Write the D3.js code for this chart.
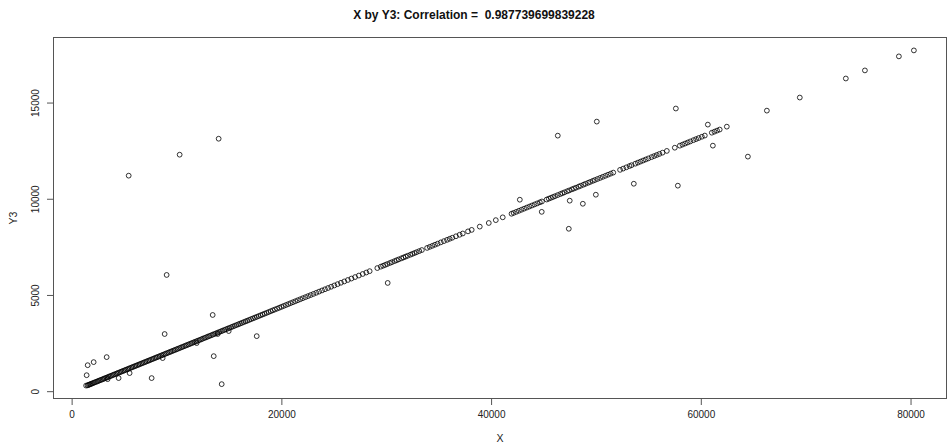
<!DOCTYPE html>
<html>
<head>
<meta charset="utf-8">
<script src="https://cdn.jsdelivr.net/npm/d3@7"></script>
<style>
  html, body { margin: 0; padding: 0; background: #fff; }
  svg { display: block; font-family: "Liberation Sans", Arial, sans-serif; }
</style>
</head>
<body>
<div id="chart"></div>
<script>
const title = "X by Y3: Correlation =  0.987739699839228"
const xLabel = "X"
const yLabel = "Y3"
const xTicks = [0, 20000, 40000, 60000, 80000]
const yTicks = [0, 5000, 10000, 15000]

// points along the main trend
const xValues = [
  1380, 1520, 1610, 1700, 1790, 1880, 1990, 2100, 2210, 2330, 2450, 2560, 2680, 2800, 2930,
  3050, 3160, 3290, 3400, 3530, 3650, 3770, 3900, 4020, 4150, 4280, 4400, 4530, 4660, 4780,
  4910, 5040, 5160, 5300, 5420, 5550, 5690, 5810, 5950, 6080, 6210, 6350, 6480, 6620, 6750,
  6890, 7020, 7160, 7300, 7430, 7570, 7710, 7850, 7990, 8120, 8260, 8410, 8550, 8690, 8830,
  8970, 9110, 9260, 9400, 9540, 9690, 9830, 9980, 10120, 10270, 10420, 10560, 10710, 10860,
  11000, 11150, 11300, 11450, 11600, 11750, 11900, 12050, 12210, 12360, 12510, 12670, 12820,
  12980, 13130, 13290, 13450, 13600, 13760, 13920, 14080, 14240, 14400, 14560, 14720, 14890,
  15050, 15220, 15380, 15550, 15720, 15890, 16060, 16230, 16400, 16580, 16750, 16930, 17110,
  17290, 17470, 17650, 17830, 18020, 18210, 18400, 18590, 18780, 18980, 19180, 19380, 19590,
  19800, 20010, 20220, 20440, 20660, 20880, 21110, 21340, 21570, 21810, 22050, 22300, 22550,
  22800, 23060, 23330, 23600, 23880, 24160, 24450, 24750, 25050, 25360, 25680, 26000, 26340,
  26680, 27030, 27390, 27760, 28100, 28420,
  29150, 29480, 29700, 29900, 30100, 30350, 30550, 30800, 31000, 31200, 31450, 31650, 31850,
  32050, 32300, 32500, 32700, 32900, 33150, 33400, 33900, 34150, 34400, 34650, 34900, 35200,
  35500, 35800, 36050, 36300, 36650, 37000, 37300, 37800, 38150, 38920, 39780, 40450, 41110,
  41950, 42150, 42400, 42650, 42900, 43150, 43400, 43650, 43900, 44150, 44400, 44650, 44850,
  45300, 45500, 45700, 45900, 46100, 46350, 46600, 46800, 47000, 47250, 47450, 47700, 47900,
  48100, 48350, 48550, 48800, 49000, 49250, 49450, 49700, 49900, 50150, 50400, 50650, 50900,
  51150, 51400, 51650, 52300, 52600, 52900, 53200, 53400, 53750, 54000, 54250, 54500, 54750,
  55000, 55300, 55550, 55800, 56050, 56350, 56760, 57520, 58000, 58250, 58500, 58750, 59000,
  59300, 59550, 59800, 60100, 60380, 61050, 61300, 61550, 61800, 62480, 66300, 69440, 73830,
  75650, 78890, 80320
]
const y3Values = [
  290, 305, 326, 345, 365, 385, 409, 433, 458, 484, 510, 535, 561, 587, 616,
  642, 667, 695, 720, 748, 775, 801, 830, 856, 885, 914, 940, 969, 997, 1024,
  1053, 1081, 1108, 1139, 1165, 1194, 1225, 1251, 1282, 1311, 1339, 1370, 1399, 1430, 1458,
  1489, 1518, 1549, 1580, 1608, 1639, 1670, 1701, 1732, 1760, 1791, 1824, 1855, 1886, 1917,
  1948, 1979, 2012, 2043, 2074, 2107, 2137, 2171, 2201, 2234, 2268, 2298, 2332, 2365,
  2396, 2429, 2462, 2495, 2528, 2561, 2594, 2627, 2662, 2695, 2729, 2764, 2797,
  2832, 2865, 2900, 2936, 2969, 3004, 3039, 3075, 3110, 3145, 3180, 3216, 3253,
  3288, 3326, 3361, 3399, 3436, 3474, 3511, 3548, 3586, 3626, 3663, 3703, 3743,
  3782, 3822, 3862, 3901, 3943, 3985, 4027, 4069, 4111, 4155, 4199, 4243, 4289,
  4336, 4382, 4428, 4477, 4525, 4574, 4624, 4675, 4726, 4779, 4832, 4887, 4942,
  4997, 5054, 5114, 5174, 5236, 5297, 5361, 5427, 5494, 5562, 5633, 5703, 5778,
  5853, 5930, 6009, 6091, 6166, 6237,
  6398, 6470, 6519, 6563, 6607, 6662, 6706, 6761, 6806, 6850, 6905, 6949, 6993,
  7037, 7092, 7136, 7180, 7224, 7280, 7335, 7445, 7500, 7555, 7610, 7665, 7732,
  7798, 7864, 7919, 7974, 8051, 8129, 8195, 8305, 8382, 8552, 8741, 8889, 9035,
  9220, 9264, 9319, 9374, 9429, 9485, 9540, 9595, 9650, 9705, 9760, 9815, 9859,
  9959, 10003, 10047, 10091, 10135, 10190, 10245, 10289, 10334, 10389, 10433, 10488, 10532,
  10576, 10631, 10675, 10730, 10775, 10830, 10874, 10929, 10973, 11028, 11083, 11138, 11193,
  11249, 11304, 11359, 11502, 11568, 11634, 11701, 11745, 11822, 11877, 11932, 11987, 12042,
  12098, 12164, 12219, 12274, 12329, 12395, 12486, 12653, 12759, 12814, 12869, 12924, 12980,
  13046, 13101, 13156, 13222, 13284, 13432, 13487, 13542, 13597, 13747, 14580, 15260, 16250,
  16670, 17400, 17710
]

// points off the trend
const xOutliers = [
  1430, 1530, 2100, 3340, 3430, 4480, 5530, 7630, 8680, 8870, 9060, 11920, 13450, 13550,
  13930, 14310, 14980, 17650, 5440, 10300, 14020, 30140, 42740, 44830, 46360, 47410, 47500,
  48750, 49990, 50080, 53610, 57620, 57810, 60670, 61150, 64490
]
const y3Outliers = [
  830, 1350, 1510, 1770, 625, 680, 940, 680, 1720, 2970, 6040, 2500, 3960, 1820,
  2970, 365, 3125, 2860, 11200, 12290, 13120, 5625, 9950, 9320, 13280, 8440, 9900,
  9740, 10210, 14010, 10780, 14690, 10680, 13854, 12760, 12190
]

const width = 948
const height = 445
const margin = { top: 37, right: 1, bottom: 46, left: 53 }

const points = xValues.map((x, i) => ({ x, y: y3Values[i] }))
  .concat(xOutliers.map((x, i) => ({ x, y: y3Outliers[i] })))

// R style: data range extended by 4% on each side
const pad = ([a, b]) => [a - (b - a) * 0.04, b + (b - a) * 0.04]

const x = d3.scaleLinear()
  .domain(pad(d3.extent(points, d => d.x)))
  .range([margin.left, width - margin.right])

const y = d3.scaleLinear()
  .domain(pad(d3.extent(points, d => d.y)))
  .range([height - margin.bottom, margin.top])

const svg = d3.select("#chart")
  .append("svg")
  .attr("width", width)
  .attr("height", height)

const axisColor = "#555"
const textColor = "#222"

// x axis
const gx = svg.append("g")
  .attr("transform", `translate(0,${height - margin.bottom})`)
  .call(d3.axisBottom(x).tickValues(xTicks).tickFormat(d3.format("d")).tickSize(6).tickPadding(6))
gx.select(".domain").remove()
gx.selectAll("line").attr("stroke", axisColor)
gx.selectAll("text").attr("fill", textColor).style("font-size", "10px")

// y axis, labels turned like R's default
const gy = svg.append("g")
  .attr("transform", `translate(${margin.left},0)`)
  .call(d3.axisLeft(y).tickValues(yTicks).tickFormat(d3.format("d")).tickSize(6))
gy.select(".domain").remove()
gy.selectAll("line").attr("stroke", axisColor)
gy.selectAll("text")
  .attr("fill", textColor)
  .style("font-size", "10px")
  .attr("x", null).attr("dy", null)
  .attr("text-anchor", "middle")
  .attr("transform", "translate(-14,0) rotate(-90)")

// plot box
svg.append("rect")
  .attr("x", margin.left + 0.5)
  .attr("y", margin.top + 0.5)
  .attr("width", width - margin.left - margin.right - 1)
  .attr("height", height - margin.top - margin.bottom - 1)
  .attr("fill", "none")
  .attr("stroke", axisColor)

// points
svg.append("g")
  .selectAll("circle")
  .data(points)
  .join("circle")
  .attr("cx", d => x(d.x))
  .attr("cy", d => y(d.y))
  .attr("r", 2.4)
  .attr("fill", "none")
  .attr("stroke", "#000")
  .attr("stroke-width", 0.8)

// titles
svg.append("text")
  .attr("x", width / 2)
  .attr("y", 19)
  .attr("text-anchor", "middle")
  .attr("font-weight", "bold")
  .attr("font-size", 12)
  .attr("fill", "#111")
  .style("white-space", "pre")
  .text(title)

svg.append("text")
  .attr("x", (margin.left + width - margin.right) / 2)
  .attr("y", 442)
  .attr("text-anchor", "middle")
  .attr("font-size", 10.5)
  .attr("fill", textColor)
  .text(xLabel)

svg.append("text")
  .attr("transform", `translate(17,${(margin.top + height - margin.bottom) / 2}) rotate(-90)`)
  .attr("text-anchor", "middle")
  .attr("font-size", 10.5)
  .attr("fill", textColor)
  .text(yLabel)
</script>
</body>
</html>
